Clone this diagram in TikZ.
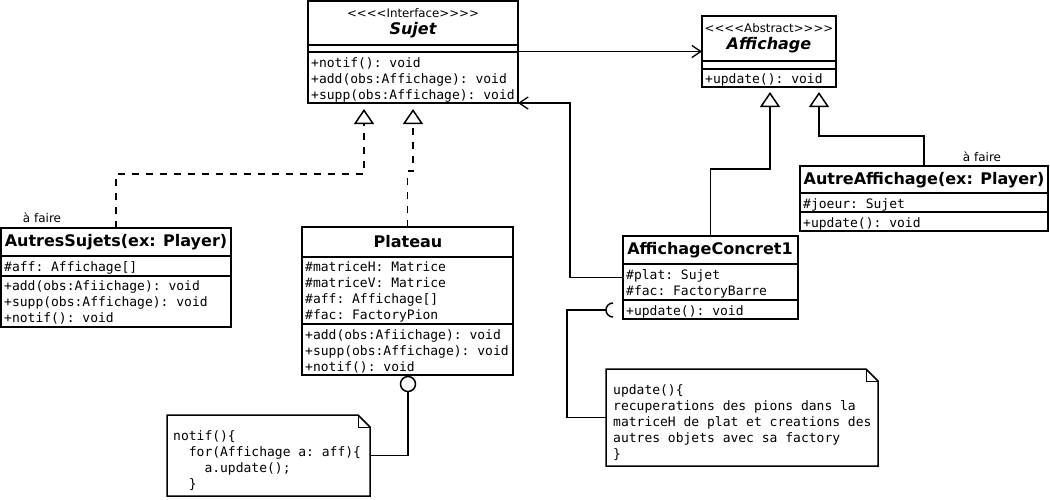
\documentclass[tikz,border=0pt]{standalone}
\usepackage{fontspec}
\setmainfont{DejaVu Sans}[Ligatures=TeXOff]
\setmonofont{DejaVu Sans Mono}
\usetikzlibrary{arrows.meta, positioning}

\begin{document}
\begin{tikzpicture}[x=1pt, y=-1pt,
    classbox/.style={draw, line width=1.5pt, anchor=north west, inner sep=0pt, outer sep=0pt},
    classname/.style={inner sep=0pt, font=\fontsize{16}{18}\selectfont\bfseries},
    stereo/.style={inner sep=0pt, font=\fontsize{11.8}{13}\selectfont},
    member/.style={anchor=west, inner sep=0pt, yshift=-2pt, text height=9.5pt, text depth=2.5pt, font=\fontsize{13}{16}\selectfont\ttfamily},
    sepline/.style={line width=1.5pt},
    notebox/.style={anchor=north west, inner sep=0pt, outer sep=0pt},
    notetext/.style={anchor=north west, inner sep=0pt, align=left, font=\fontsize{13}{16}\selectfont\ttfamily},
    link/.style={draw, line width=1.5pt},
    assoc/.style={link, -{Straight Barb[length=9pt, width=12pt, line width=1.3pt]}},
    realize/.style={link, dash pattern=on 7pt off 7pt, -{Triangle[open, length=15pt, width=20pt, line width=1.5pt]}, shorten >=6pt},
    inherit/.style={link, -{Triangle[open, length=15pt, width=20pt, line width=1.5pt]}, shorten >=5pt},
    todo/.style={inner sep=0pt, font=\fontsize{12}{14}\selectfont}
]
    \useasboundingbox (0,0) rectangle (1050,499);

    % Sujet (interface)
    \node[classbox, minimum width=210pt, minimum height=102pt] (sujet) at (308,1) {};
    \node[stereo] (sujetst) at (413,13.5) {<<<<Interface>>>>};
    \node[classname] (sujetname) at (413,30.5) {\itshape Sujet};
    \draw[sepline] ([yshift=-44pt]sujet.north west) -- ([yshift=-44pt]sujet.north east);
    \draw[sepline] ([yshift=-51pt]sujet.north west) -- ([yshift=-51pt]sujet.north east);
    \node[member] (sujetm1) at (311,62) {+notif(): void};
    \node[member] (sujetm2) at (311,78) {+add(obs:Affichage): void};
    \node[member] (sujetm3) at (311,94) {+supp(obs:Affichage): void};

    % Affichage (abstract)
    \node[classbox, minimum width=134pt, minimum height=71pt] (affichage) at (702,16) {};
    \node[stereo] (affst) at (769,28.5) {<<<<Abstract>>>>};
    \node[classname] (affname) at (769,45.5) {\itshape Affichage};
    \draw[sepline] ([yshift=-45pt]affichage.north west) -- ([yshift=-45pt]affichage.north east);
    \draw[sepline] ([yshift=-53pt]affichage.north west) -- ([yshift=-53pt]affichage.north east);
    \node[member] (affm1) at (705,78) {+update(): void};

    % AutresSujets
    \node[classbox, minimum width=230pt, minimum height=99pt] (autres) at (1,228) {};
    \node[classname] (autresname) at (116,242) {AutresSujets(ex: Player)};
    \node[todo] (autrestodo) at (42,218) {à faire};
    \draw[sepline] ([yshift=-28pt]autres.north west) -- ([yshift=-28pt]autres.north east);
    \node[member] (autresa1) at (4,266) {\#aff: Affichage[]};
    \draw[sepline] ([yshift=-48pt]autres.north west) -- ([yshift=-48pt]autres.north east);
    \node[member] (autresm1) at (4,285) {+add(obs:Afiichage): void};
    \node[member] (autresm2) at (4,301) {+supp(obs:Affichage): void};
    \node[member] (autresm3) at (4,317) {+notif(): void};

    % Plateau
    \node[classbox, minimum width=211pt, minimum height=148pt] (plateau) at (302,227) {};
    \node[classname] (plateauname) at (408,242) {Plateau};
    \draw[sepline] ([yshift=-30pt]plateau.north west) -- ([yshift=-30pt]plateau.north east);
    \node[member] (plateaua1) at (305,266) {\#matriceH: Matrice};
    \node[member] (plateaua2) at (305,282) {\#matriceV: Matrice};
    \node[member] (plateaua3) at (305,298) {\#aff: Affichage[]};
    \node[member] (plateaua4) at (305,314) {\#fac: FactoryPion};
    \draw[sepline] ([yshift=-97pt]plateau.north west) -- ([yshift=-97pt]plateau.north east);
    \node[member] (plateaum1) at (305,334) {+add(obs:Afiichage): void};
    \node[member] (plateaum2) at (305,350) {+supp(obs:Affichage): void};
    \node[member] (plateaum3) at (305,366) {+notif(): void};

    % AffichageConcret1
    \node[classbox, minimum width=175pt, minimum height=83pt] (concret) at (623,236) {};
    \node[classname] (concretname) at (710,250) {AffichageConcret1};
    \draw[sepline] ([yshift=-28pt]concret.north west) -- ([yshift=-28pt]concret.north east);
    \node[member] (concreta1) at (626,274) {\#plat: Sujet};
    \node[member] (concreta2) at (626,290) {\#fac: FactoryBarre};
    \draw[sepline] ([yshift=-64pt]concret.north west) -- ([yshift=-64pt]concret.north east);
    \node[member] (concretm1) at (626,310) {+update(): void};

    % AutreAffichage
    \node[classbox, minimum width=248pt, minimum height=65pt] (autre) at (800,166) {};
    \node[classname] (autrename) at (924,180) {AutreAffichage(ex: Player)};
    \node[todo] (autretodo) at (982,157) {à faire};
    \draw[sepline] ([yshift=-27pt]autre.north west) -- ([yshift=-27pt]autre.north east);
    \node[member] (autrea1) at (803,203) {\#joeur: Sujet};
    \draw[sepline] ([yshift=-46pt]autre.north west) -- ([yshift=-46pt]autre.north east);
    \node[member] (autrem1) at (803,222) {+update(): void};

    % Notes
    \node[notebox, minimum width=203pt, minimum height=81pt] (note1) at (167,415) {};
    \draw[line width=1.5pt] (note1.north west) -- ([xshift=-12pt]note1.north east) -- ([yshift=-12pt]note1.north east) -- (note1.south east) -- (note1.south west) -- cycle;
    \draw[line width=0.8pt] ([xshift=-12pt]note1.north east) |- ([yshift=-12pt]note1.north east);
    \node[notetext] (note1text) at (173,430) {notif()\{\\\phantom{xx}for(Affichage a: aff)\{\\\phantom{xxxx}a.update();\\\phantom{xx}\}};

    \node[notebox, minimum width=272pt, minimum height=97pt] (note2) at (606,369) {};
    \draw[line width=1.5pt] (note2.north west) -- ([xshift=-12pt]note2.north east) -- ([yshift=-12pt]note2.north east) -- (note2.south east) -- (note2.south west) -- cycle;
    \draw[line width=0.8pt] ([xshift=-12pt]note2.north east) |- ([yshift=-12pt]note2.north east);
    \node[notetext] (note2text) at (613,384.5) {update()\{\\recuperations des pions dans la\\matriceH de plat et creations des\\autres objets avec sa factory\\\}};

    % Links
    \draw[assoc] (sujet.east |- affichage.west) -- (affichage.west);
    \draw[assoc] (concret.west) -- ++(-53,0) |- (sujet.south east);

    \draw[realize] (autres.north) -- ++(0,-54) -| ([xshift=56pt]sujet.south west);
    \draw[realize] (plateau.north) -- ++(0,-56) -| ([xshift=105pt]sujet.south west);

    \draw[inherit] (concret.north) -- ++(0,-67) -| ([xshift=68pt]affichage.south west);
    \draw[inherit] (autre.north) -- ++(0,-30) -| ([xshift=117pt]affichage.south west);

    % note anchors
    \node[circle, draw, line width=1.5pt, fill=white, minimum size=15pt, inner sep=0pt] (lolli) at (408,384) {};
    \draw[link] (lolli.south) |- (note1.east);

    \coordinate (sock) at (606,310);
    \draw[link] ([shift={(7,7)}]sock) arc[start angle=90, end angle=270, radius=7];
    \draw[link] (sock) -- ++(-39,0) |- (note2.west);

\end{tikzpicture}
\end{document}
